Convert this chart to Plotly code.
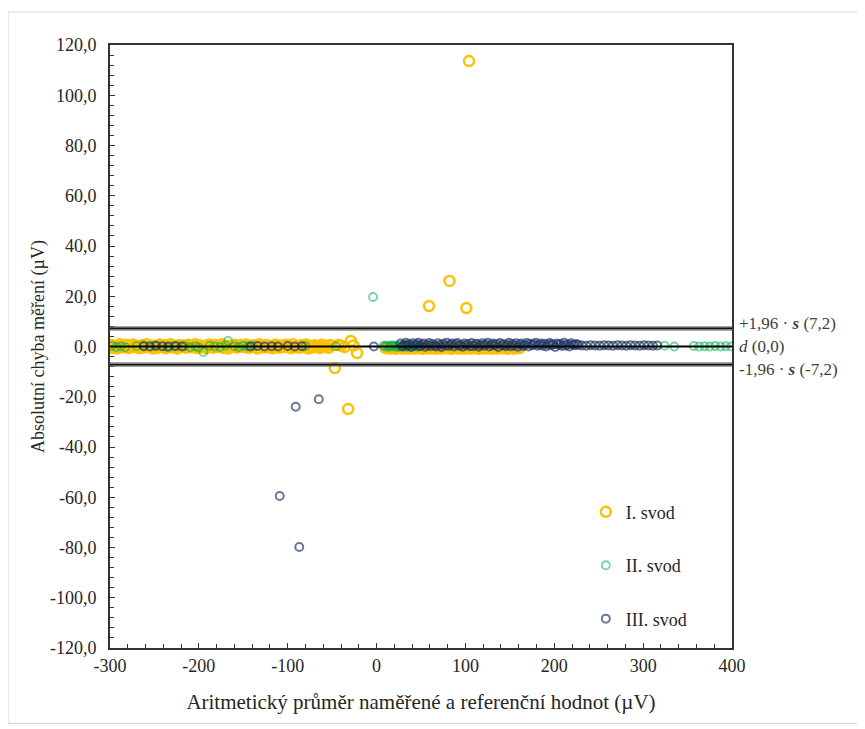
import plotly.graph_objects as go

# ---------------- data ----------------
# I. svod (yellow): band near zero (left part), band under series III, outliers
I_x = [-299, -297, -294, -292, -289, -287, -284, -282, -279, -277, -274, -272, -269, -267, -264, -262, -259, -257, -254, -252,
       -249, -247, -244, -242, -239, -237, -234, -232, -229, -227, -224, -222, -219, -217, -214, -212, -209, -207, -204, -202,
       -199, -197, -194, -192, -189, -187, -184, -182, -179, -177, -174, -172, -169, -167, -164, -162, -159, -157, -154, -152,
       -149, -147, -144, -142, -139, -137, -134, -132, -129, -127, -124, -122, -119, -117, -114, -112, -109, -107, -104, -102,
       -99, -97, -94, -92, -89, -87, -84, -82, -79, -77, -74, -72, -69, -67, -64, -62, -59, -57, -54, -52,
       -40, -36, -26,
       10, 14, 17, 21, 24, 28, 31, 35, 38, 42, 45, 49, 52, 56, 59, 63, 66, 70, 73, 77,
       80, 84, 87, 91, 94, 98, 101, 105, 108, 112, 115, 119, 122, 126, 129, 133, 136, 140, 143, 147,
       150, 154, 157, 161,
       104, 82, 59, 101, -32, -47, -29, -22, -43]
I_y = [0.6, -0.5, 0.2, -0.8, 0.9, 0.0, -0.3, 0.7, -0.6, 0.3, 0.8, -0.2, 0.1, -0.7, 0.5, -0.4, 0.9, -0.1, 0.4, -0.8,
       0.3, -0.6, 0.8, -0.2, 0.5, -0.7, 0.0, 0.9, -0.4, 0.2, -0.8, 0.6, -0.1, 0.4, -0.5, 0.7, 0.1, -0.3, 0.9, -0.6,
       0.5, -0.3, 0.1, -0.7, 0.8, 0.0, -0.5, 0.6, -0.2, 0.3, 0.9, -0.6, 0.2, -0.8, 0.4, -0.1, 0.7, -0.4, 0.0, 0.6,
       -0.2, 0.8, -0.6, 0.3, -0.1, 0.5, -0.8, 0.9, 0.1, -0.4, 0.6, -0.3, 0.2, -0.7, 0.8, 0.0, -0.5, 0.4, -0.2, 0.7,
       0.4, -0.7, 0.9, -0.3, 0.1, -0.5, 0.6, -0.1, 0.8, -0.8, 0.2, -0.4, 0.5, 0.0, -0.6, 0.7, -0.2, 0.3, -0.5, 0.6,
       0.3, -0.2, 0.4,
       -0.6, -0.8, -0.7, -0.9, -0.6, -0.8, -0.7, -0.9, -0.6, -0.8, -0.7, -0.6, -0.9, -0.7, -0.8, -0.6, -0.9, -0.7, -0.8, -0.6,
       -0.7, -0.9, -0.6, -0.8, -0.7, -0.9, -0.6, -0.8, -0.7, -0.6, -0.9, -0.7, -0.8, -0.6, -0.9, -0.7, -0.8, -0.6, -0.7, -0.9,
       -0.6, -0.8, -0.7, -0.6,
       113.6, 26.1, 16.1, 15.3, -24.9, -8.6, 2.2, -2.6, 0.6]

# II. svod (green)
II_x = [-298, -293, -288, -283, -270, -262, -250, -236, -228, -216, -210, -204, -200,
        -195, -188, -182, -176, -170, -167, -160, -155, -150, -145, -140, -80, -46,
        8, 10, 12, 14, 16, 18, 20, 22, 24, 26, 28, 30, 32, 34, 36, 38, 40, 42, 44, 46, 48,
        324, 335, 357, 363, 369, 375, 381, 387, 393, 399,
        -4]
II_y = [0.3, -0.2, 0.1, -0.3, 0.2, 0.0, 0.3, -0.2, 0.0, 0.2, -0.3, 0.1, -0.4,
        -2.2, 0.3, 0.0, -0.2, 0.4, 2.2, 0.1, -0.2, 0.3, 0.0, 0.3, 0.2, 0.1,
        0.3, 0.0, 0.4, -0.1, 0.2, 0.5, 0.0, 0.3, -0.2, 0.4, 0.1, 0.0, 0.3, -0.1, 0.2, 0.4,
        0.0, 0.3, 0.1, -0.1, 0.2,
        0.3, 0.0, 0.2, 0.0, 0.1, 0.0, 0.2, 0.0, 0.1, 0.0,
        19.7]

# III. svod (blue)
III_x = [-262, -255, -248, -241, -234, -226, -219,
         -142, -134, -126, -118, -111, -100, -92, -84, -3,
         27, 29, 31, 33, 35, 37, 39, 41, 43, 45, 47, 49, 51, 53, 55, 57, 59, 61, 63, 65,
         67, 69, 71, 73, 75, 77, 79, 81, 83, 85, 87, 89, 91, 93, 95, 97, 99, 101, 103, 105,
         107, 109, 111, 113, 115, 117, 119, 121, 123, 125, 127, 129, 131, 133, 135, 137, 139, 141, 143, 145,
         147, 149, 151, 153, 155, 157, 159, 161, 163, 165, 167, 169, 171, 173, 175, 177, 179, 181, 183, 185,
         187, 189, 191, 193, 195, 197, 199, 201, 203, 205, 207, 209, 211, 213, 215, 217, 219, 221, 223, 225,
         227,
         231, 236, 241, 246, 251, 256, 261, 266, 271, 276, 281, 286, 291, 296, 301, 306,
         311, 316,
         -65, -91, -109, -87]
III_y = [0.2, 0.0, 0.3, 0.1, 0.0, 0.2, 0.0,
         0.0, 0.2, 0.0, 0.1, 0.0, 0.2, 0.0, 0.1, 0.0,
         1.2, 0.0, 0.7, 1.5, 0.3, 1.0, -0.2, 1.3, 0.5, 0.9, 1.5, 0.1, 0.8, 1.2, -0.1, 0.6, 1.4, 0.2, 1.0, 0.4,
         0.0, 1.3, 0.6, -0.2, 1.1, 0.4, 1.5, 0.2, 0.8, 1.2, 0.0, 0.9, 1.4, 0.3, 0.7, -0.1, 1.2, 0.5, 1.0, 0.1,
         1.4, 0.2, 0.9, 1.1, -0.1, 0.6, 1.3, 0.3, 0.8, 1.5, 0.0, 0.7, 1.2, 0.4, 1.0, -0.2, 1.4, 0.5, 0.9, 0.1,
         0.7, 1.5, 0.1, 1.0, 0.4, 1.3, -0.1, 0.8, 1.2, 0.2, 0.6, 1.4, 0.0, 1.1, 0.5, 0.9, 1.5, 0.3, 0.7, 1.2,
         0.3, 1.1, 0.0, 0.8, 1.4, 0.5, 0.9, -0.2, 1.2, 0.6, 1.0, 0.2, 1.5, 0.4, 0.8, 0.0, 1.3, 0.7, 0.5, 1.0,
         0.6,
         0.4, 0.3, 0.5, 0.4, 0.3, 0.5, 0.4, 0.3, 0.5, 0.4, 0.3, 0.5, 0.4, 0.3, 0.5, 0.4,
         0.3, 0.4,
         -21.0, -24.0, -59.5, -79.8]

series_names = ["I. svod", "II. svod", "III. svod"]

# Bland-Altman limits
limit_values = [7.2, 0.0, -7.2]
limit_labels = ["+1,96 · <b><i>s</i></b> (7,2)", "<i>d</i> (0,0)", "-1,96 · <b><i>s</i></b> (-7,2)"]

y_tickvals = [-120, -100, -80, -60, -40, -20, 0, 20, 40, 60, 80, 100, 120]
y_ticktext = ["-120,0", "-100,0", "-80,0", "-60,0", "-40,0", "-20,0", "0,0",
              "20,0", "40,0", "60,0", "80,0", "100,0", "120,0"]
x_tickvals = [-300, -200, -100, 0, 100, 200, 300, 400]
x_ticktext = ["-300", "-200", "-100", "0", "100", "200", "300", "400"]

# ---------------- figure ----------------
FONT = "Times New Roman, Liberation Serif, serif"
TXT = "#262626"

fig = go.Figure()

styles = [
    dict(color="#FFC000", size=10, width=2.5),
    dict(color="rgba(0,176,80,0.55)", size=8, width=1.8),
    dict(color="rgba(32,56,100,0.68)", size=8, width=2.0),
]
for name, xs, ys, st, grp in zip(series_names, [I_x, II_x, III_x], [I_y, II_y, III_y],
                                 styles, ["g1", "g2", "g3"]):
    fig.add_trace(go.Scatter(
        x=xs, y=ys, mode="markers", name=name, legendgroup=grp,
        marker=dict(symbol="circle-open", size=st["size"], color=st["color"],
                    line=dict(width=st["width"], color=st["color"])),
    ))

# limit lines
for v in limit_values:
    if v != 0:
        fig.add_shape(type="line", xref="paper", x0=0, x1=1, yref="y", y0=v, y1=v,
                      line=dict(color="rgba(110,110,110,0.6)", width=5), layer="above")
        fig.add_shape(type="line", xref="paper", x0=0, x1=1, yref="y", y0=v, y1=v,
                      line=dict(color="#111111", width=1.6), layer="above")
    else:
        fig.add_shape(type="line", xref="paper", x0=0, x1=1, yref="y", y0=v, y1=v,
                      line=dict(color="#000000", width=2), layer="above")

label_offsets = [2, 0, -2]
for v, lab, off in zip(limit_values, limit_labels, label_offsets):
    fig.add_annotation(x=1.008, xref="paper", y=v + off, yref="y", text=lab,
                       showarrow=False, xanchor="left", yanchor="middle",
                       font=dict(family=FONT, size=17, color="#404040"))

# outer chart frame
fig.add_shape(type="rect", xref="paper", yref="paper", x0=-0.164, x1=1.22,
              y0=-0.125, y1=1.0547, line=dict(color="#d9d9d9", width=1.2), layer="below")

axis_common = dict(showgrid=False, zeroline=False, showline=True, mirror=True,
                   linecolor="#333333", linewidth=2, ticks="inside", ticklen=5,
                   tickcolor="#333333", tickwidth=1.2,
                   tickfont=dict(family=FONT, size=18, color=TXT))

fig.update_layout(
    width=865, height=729,
    margin=dict(l=102, r=141, t=37, b=89),
    paper_bgcolor="white", plot_bgcolor="white",
    font=dict(family=FONT, color=TXT),
    showlegend=True,
    legend=dict(x=0.765, y=0.256, xanchor="left", yanchor="top",
                bgcolor="rgba(0,0,0,0)", tracegroupgap=27, traceorder="grouped",
                font=dict(family=FONT, size=18, color=TXT), itemwidth=30),
    xaxis=dict(range=[-300, 400], tickvals=x_tickvals, ticktext=x_ticktext,
               minor=dict(ticks="inside", dtick=20, ticklen=4, tickcolor="#333333"),
               title=dict(text="Aritmetický průměr naměřené a referenční hodnot (µV)",
                          font=dict(family=FONT, size=21, color=TXT), standoff=20),
               **axis_common),
    yaxis=dict(range=[-120, 120], tickvals=y_tickvals, ticktext=y_ticktext,
               minor=dict(ticks="inside", dtick=4, ticklen=4, tickcolor="#333333"),
               ticklabelstandoff=8,
               title=dict(text="Absolutní chyba měření (µV)",
                          font=dict(family=FONT, size=18, color=TXT), standoff=1),
               **axis_common),
)

fig.write_html("out.html")
